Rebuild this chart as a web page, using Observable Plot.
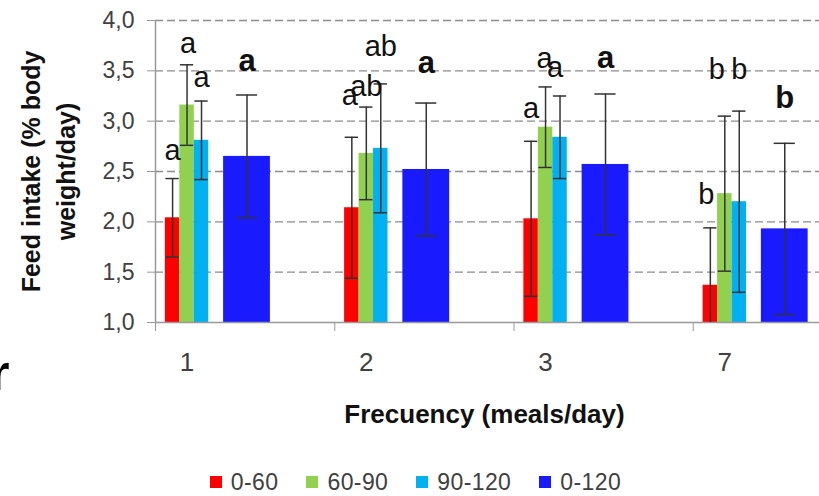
<!DOCTYPE html>
<html><head><meta charset="utf-8">
<script src="https://cdn.jsdelivr.net/npm/d3@7"></script>
<script src="https://cdn.jsdelivr.net/npm/@observablehq/plot@0.6"></script>
<style>
html,body{margin:0;padding:0;background:#fff;overflow:hidden;}
body{width:819px;height:496px;position:relative;font-family:"Liberation Sans",Arial,sans-serif;}
#legend{display:flex;justify-content:center;align-items:center;height:26px;line-height:26px;margin-top:3px;font-size:23px;color:#404040;padding-left:12px;letter-spacing:0.4px;}
.item{display:flex;align-items:center;margin:0 14px;}
.sw{width:12px;height:12px;margin-right:9px;}
#stray{position:absolute;left:-10px;top:348px;font-size:50px;line-height:50px;font-weight:bold;color:#000;}
</style></head><body>
<div id="chart"></div>
<div id="legend"></div>
<div id="stray">r</div>
<script>
// ---- data ----
const frequencies = ["1", "2", "3", "7"];
const series = ["0-60", "60-90", "90-120", "0-120"];
const mean060   = [2.04, 2.14, 2.03, 1.37];
const mean6090  = [3.16, 2.68, 2.94, 2.28];
const mean90120 = [2.81, 2.73, 2.84, 2.20];
const mean0120  = [2.65, 2.52, 2.57, 1.93];
const sd060   = [0.39, 0.70, 0.77, 0.57];
const sd6090  = [0.40, 0.46, 0.40, 0.77];
const sd90120 = [0.39, 0.64, 0.41, 0.90];
const sd0120  = [0.61, 0.66, 0.70, 0.85];
const letters060   = ["a", "a", "a", "b"];
const letters6090  = ["a", "ab", "a", "b"];
const letters90120 = ["a", "ab", "a", "b"];
const letters0120  = ["a", "a", "a", "b"];
// baseline heights of the significance letters (data units)
const letterY060   = [2.61, 3.16, 3.03, 2.18];
const letterY6090  = [3.68, 3.25, 3.53, 3.42];
const letterY90120 = [3.34, 3.65, 3.44, 3.42];
const letterY0120  = [3.50, 3.48, 3.53, 3.13];
const yTicks = [1.0, 1.5, 2.0, 2.5, 3.0, 3.5, 4.0];
const colors = ["#ff0000", "#92d050", "#00b0f0", "#1a1aff"];

// ---- layout (within one category unit) ----
const means = [mean060, mean6090, mean90120, mean0120];
const sds = [sd060, sd6090, sd90120, sd0120];
const letters = [letters060, letters6090, letters90120, letters0120];
const letterYs = [letterY060, letterY6090, letterY90120, letterY0120];
// small horizontal nudges (px) of letters, [series][frequency]
const letterNudge = [[0, -2, 0, -4], [1, 0, -1, -8], [0, 0, -5, 0], [0, 0, 0, 0]];
const smallStart = 0.055, smallW = 0.0807, bigStart = 0.38, bigW = 0.261;
const slot = j => j < 3 ? [smallStart + j * smallW, smallStart + (j + 1) * smallW] : [bigStart, bigStart + bigW];
const capHalf = j => j < 3 ? 0.037 : 0.059;
const clusterCenter = smallStart + 1.5 * smallW;

const rows = frequencies.flatMap((f, i) => series.map((s, j) => {
  const [a, b] = slot(j);
  const cx = i + (a + b) / 2;
  const m = means[j][i], sd = sds[j][i];
  return {freq: f, series: s, big: j === 3, x1: i + a, x2: i + b, cx,
    c1: cx - capHalf(j), c2: cx + capHalf(j), mean: m, lo: m - sd, hi: m + sd,
    letter: letters[j][i], ly: letterYs[j][i], lx: cx + letterNudge[j][i] / 179};
}));

const tickPos = frequencies.map((f, i) => i + clusterCenter);
const comma = d => d.toFixed(1).replace(".", ",");
const errStroke = "#333";

const chart = Plot.plot({
  width: 819, height: 466,
  marginLeft: 155, marginRight: 0, marginTop: 20, marginBottom: 144,
  x: {domain: [0, 4], range: [155, 872]},
  y: {domain: [1, 4]},
  color: {domain: series, range: colors},
  style: {fontFamily: "'Liberation Sans', Arial, sans-serif", background: "white", overflow: "visible"},
  marks: [
    Plot.ruleY(yTicks.filter(d => d > 1), {stroke: "#8c8c8c", strokeWidth: 1.3, strokeDasharray: "8,4"}),
    Plot.rect(rows, {x1: "x1", x2: "x2", y1: () => 1, y2: "mean", fill: "series"}),
    Plot.ruleY([1], {stroke: "#999", strokeWidth: 1.5}),
    Plot.ruleX([0], {y1: 1, y2: 4, stroke: "#999", strokeWidth: 1.5}),
    Plot.axisY({ticks: yTicks, tickFormat: comma, tickSize: 8, tickPadding: 13, fontSize: 23,
      stroke: "#999", fill: "#404040", label: null}),
    Plot.axisX({ticks: [0, 1, 2, 3], tickSize: 9, tickFormat: () => "", stroke: "#999", label: null}),
    Plot.axisX({ticks: tickPos, tickSize: 0, tickPadding: 30, fontSize: 26, fill: "#404040", label: null,
      tickFormat: d => frequencies[tickPos.indexOf(d)]}),
    Plot.ruleX(rows, {x: "cx", y1: "lo", y2: "hi", stroke: errStroke, strokeWidth: 1.5, clip: true}),
    Plot.ruleY(rows, {y: "hi", x1: "c1", x2: "c2", stroke: errStroke, strokeWidth: 1.5, clip: true}),
    Plot.ruleY(rows, {y: "lo", x1: "c1", x2: "c2", stroke: errStroke, strokeWidth: 1.5, clip: true}),
    Plot.text(rows.filter(d => !d.big), {x: "lx", y: "ly", text: "letter", lineAnchor: "bottom",
      fontSize: 29, fill: "#111"}),
    Plot.text(rows.filter(d => d.big), {x: "lx", y: "ly", text: "letter", lineAnchor: "bottom",
      fontSize: 31, fontWeight: "bold", fill: "#111"}),
    Plot.text(["Frecuency (meals/day)"], {frameAnchor: "bottom", lineAnchor: "bottom", dx: -3, dy: 100,
      fontSize: 26, fontWeight: "bold", fill: "#111"}),
    Plot.text(["Feed intake (% body\nweight/day)"], {frameAnchor: "left", rotate: -90, dx: -109,
      lineHeight: 1.4, fontSize: 25, fontWeight: "bold", fill: "#111", textAnchor: "middle"})
  ]
});
document.getElementById("chart").append(chart);

const legend = document.getElementById("legend");
series.forEach((s, j) => {
  const it = document.createElement("div");
  it.className = "item";
  const sw = document.createElement("span");
  sw.className = "sw";
  sw.style.background = colors[j];
  const t = document.createElement("span");
  t.textContent = s;
  it.append(sw, t);
  legend.append(it);
});
</script>
</body></html>
